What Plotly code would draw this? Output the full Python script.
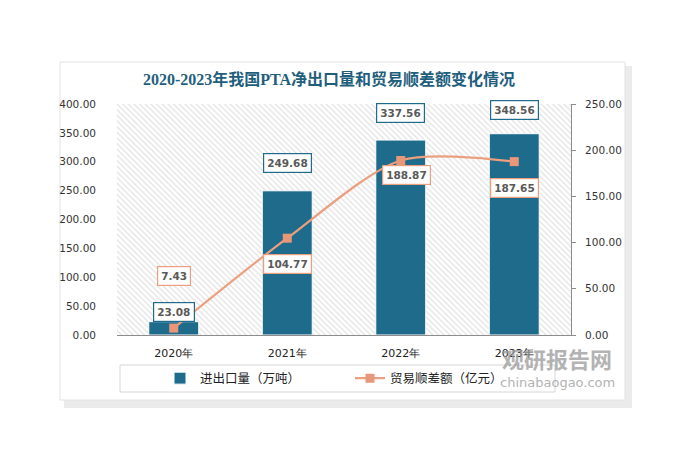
import plotly.graph_objects as go

# chart data
years = ["2020年", "2021年", "2022年", "2023年"]
export_volume = [23.08, 249.68, 337.56, 348.56]      # 进出口量（万吨）
trade_surplus = [7.43, 104.77, 188.87, 187.65]       # 贸易顺差额（亿元）

left_ticks = [0, 50, 100, 150, 200, 250, 300, 350, 400]
right_ticks = [0, 50, 100, 150, 200, 250]

BAR_COLOR = "#1e6b8c"
LINE_COLOR = "#eb9f7e"
MARKER_COLOR = "#e8977a"
LABEL_FONT = dict(family="DejaVu Sans", size=10.5, color="#595959")
TICK_FONT = dict(family="DejaVu Sans", size=10.5, color="#333333")

# manual label offsets (pixels), like hand-placed labels in the original
bar_label_shift = [0, 18, 17, 14]
line_label_shift = [52, -26, -15, -26]
line_label_xshift = [0, 0, 6, 0]

x_pos = list(range(len(years)))

# page body adds an 8px margin, so work in screen pixels minus OFF
OFF = 8
W, H = 692, 466
L, R, T, B = 117 - OFF, 571 - OFF, 104 - OFF, 335 - OFF


def px(x):
    return (x - OFF - L) / (R - L)


def py(y):
    return (B - (y - OFF)) / (B - T)


fig = go.Figure()

# hatched plot background
fig.add_trace(go.Bar(
    x=[(x_pos[0] + x_pos[-1]) / 2], y=[left_ticks[-1]], width=[len(years)],
    marker=dict(color="white", line=dict(width=0),
                pattern=dict(shape="\\", fgcolor="#c4c4c4", bgcolor="white", size=4, solidity=0.3)),
    showlegend=False, hoverinfo="skip",
))

fig.add_trace(go.Bar(
    x=x_pos, y=export_volume, width=0.44,
    name="进出口量（万吨）",
    marker=dict(color=BAR_COLOR, line=dict(color="white", width=1)),
    hovertemplate="%{y:.2f}<extra></extra>",
))

fig.add_trace(go.Scatter(
    x=x_pos, y=trade_surplus, yaxis="y2",
    name="贸易顺差额（亿元）",
    mode="lines+markers",
    line=dict(color=LINE_COLOR, width=2.2, shape="spline", smoothing=0.8),
    marker=dict(symbol="square", size=9, color=MARKER_COLOR),
    hovertemplate="%{y:.2f}<extra></extra>",
))

# value labels in boxes
for i, v in enumerate(export_volume):
    fig.add_annotation(
        x=x_pos[i], y=v, xref="x", yref="y", yshift=bar_label_shift[i] + 10,
        text=f"<b>{v:.2f}</b>", showarrow=False, font=LABEL_FONT,
        bgcolor="white", bordercolor=BAR_COLOR, borderwidth=1.2, borderpad=3,
    )
for i, v in enumerate(trade_surplus):
    fig.add_annotation(
        x=x_pos[i], y=v, xref="x", yref="y2", yshift=line_label_shift[i],
        xshift=line_label_xshift[i],
        text=f"<b>{v:.2f}</b>", showarrow=False, font=LABEL_FONT,
        bgcolor="white", bordercolor=LINE_COLOR, borderwidth=1.2, borderpad=3,
    )

# card with shadow, legend box
shapes = [
    dict(type="rect", xref="paper", yref="paper", layer="below",
         x0=px(64), x1=px(632), y0=py(408), y1=py(66),
         fillcolor="#ebebeb", line=dict(width=0)),
    dict(type="rect", xref="paper", yref="paper", layer="below",
         x0=px(60), x1=px(625), y0=py(400), y1=py(62),
         fillcolor="white", line=dict(color="#e2e2e2", width=1)),
    dict(type="rect", xref="paper", yref="paper", layer="below",
         x0=px(120), x1=px(555), y0=py(392), y1=py(365),
         fillcolor="white", line=dict(color="#d6d6d6", width=1)),
]

# watermark
fig.add_annotation(x=px(557), y=py(358), xref="paper", yref="paper", showarrow=False,
                   xanchor="center", yanchor="middle",
                   text="<b>观研报告网</b>", font=dict(family="Noto Sans CJK SC", size=22, color="#9a9a9a"),
                   opacity=0.75)
fig.add_annotation(x=px(557), y=py(382), xref="paper", yref="paper", showarrow=False,
                   xanchor="center", yanchor="middle",
                   text="chinabaogao.com", font=dict(family="DejaVu Sans", size=13, color="#9a9a9a"),
                   opacity=0.75)

fig.update_layout(
    width=W, height=H,
    margin=dict(l=L, r=W - R, t=T, b=H - B, pad=0, autoexpand=False),
    paper_bgcolor="white", plot_bgcolor="rgba(0,0,0,0)",
    barmode="overlay",
    shapes=shapes,
    title=dict(
        text="<b>2020-2023年我国PTA净出口量和贸易顺差额变化情况</b>",
        x=(329 - OFF) / W, xanchor="center", y=1 - (79 - OFF) / H, yanchor="middle",
        font=dict(family="Liberation Serif, Noto Sans CJK SC", size=16, color="#1f5f7d"),
    ),
    xaxis=dict(
        range=[-0.5, 3.5], tickvals=x_pos, ticktext=years,
        showline=True, linecolor="#8c8c8c", linewidth=1,
        showgrid=False, zeroline=False, ticks="", ticklabelstandoff=8,
        tickfont=dict(family="DejaVu Sans", size=11, color="#222222"), fixedrange=True,
    ),
    yaxis=dict(
        range=[0, 400], tickvals=left_ticks, tickformat=".2f",
        showline=False, showgrid=False, zeroline=False, ticks="",
        ticklabelstandoff=20, tickfont=TICK_FONT, fixedrange=True,
    ),
    yaxis2=dict(
        range=[0, 250], tickvals=right_ticks, tickformat=".2f",
        overlaying="y", side="right",
        showline=True, linecolor="#8c8c8c", linewidth=1,
        ticks="outside", ticklen=4, tickcolor="#8c8c8c",
        showgrid=False, zeroline=False, ticklabelstandoff=7,
        tickfont=TICK_FONT, fixedrange=True,
    ),
    legend=dict(
        orientation="h", x=px(160), xanchor="left", y=py(378.5), yanchor="middle",
        entrywidth=145, entrywidthmode="pixels",
        font=dict(family="Noto Sans CJK SC", size=12.5, color="#222222"),
        bgcolor="rgba(0,0,0,0)", borderwidth=0,
    ),
    showlegend=True,
)

fig.write_html("out.html")
